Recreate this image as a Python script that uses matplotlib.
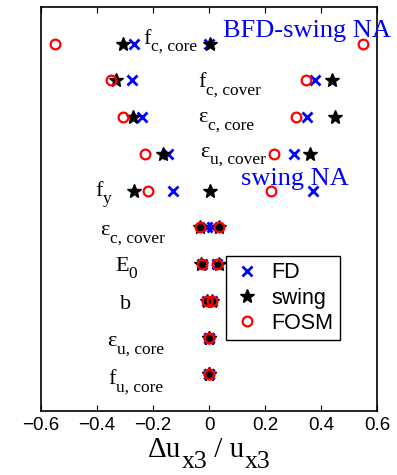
import matplotlib
matplotlib.use('Agg')
import matplotlib.pyplot as plt

plt.rcParams['font.family'] = ['Liberation Sans', 'DejaVu Sans']

# parameters, top to bottom: (main symbol, subscript)
params = [('f', 'c, core'), ('f', 'c, cover'), ('ε', 'c, core'), ('ε', 'u, cover'),
          ('f', 'y'), ('ε', 'c, cover'), ('E', '0'), ('b', ''),
          ('ε', 'u, core'), ('f', 'u, core')]
label_x = [-0.235, -0.038, -0.038, -0.031, -0.406, -0.388, -0.335, -0.317, -0.363, -0.360]
label_dy = [0.0, 0.19, 0.14, 0.08, 0.14, 0.22, 0.19, 0.22, 0.24, 0.27]

fd_lo = [-0.267, -0.275, -0.239, -0.146, -0.129, -0.007, -0.025, -0.007, 0.001, 0.001]
fd_hi = [0.0, 0.377, 0.350, 0.302, 0.370, 0.011, 0.029, 0.011, 0.001, 0.001]
swing_lo = [-0.307, -0.331, -0.271, -0.164, -0.269, -0.031, -0.028, -0.007, 0.001, 0.001]
swing_hi = [0.002, 0.441, 0.449, 0.362, 0.002, 0.034, 0.037, 0.011, 0.001, 0.001]
fosm_lo = [-0.549, -0.349, -0.307, -0.227, -0.219, -0.031, -0.025, -0.007, 0.001, 0.001]
fosm_hi = [0.550, 0.347, 0.311, 0.231, 0.222, 0.034, 0.029, 0.011, 0.001, 0.001]

n = len(params)
rows = list(range(n, 0, -1))

fig = plt.figure(figsize=(3.97, 4.75), dpi=100)
ax = fig.add_axes([0.1033, 0.1347, 0.8463, 0.8506])


def rich_text(x, y, parts, transform, **kw):
    # parts: (text, fontsize, drop below main baseline in points)
    first = ax.text(x, y, parts[0][0], fontsize=parts[0][1], transform=transform,
                    va='baseline', ha='left', family='Liberation Serif', **kw)
    d0 = 0.22 * parts[0][1]
    prev = first
    for s, fs, drop in parts[1:]:
        if not s:
            continue
        prev = ax.annotate(s, xy=(1, 0), xycoords=(prev, first), xytext=(0, d0 - drop),
                           textcoords='offset points', fontsize=fs, va='baseline',
                           ha='left', family='Liberation Serif', annotation_clip=False, **kw)
    return first


ax.plot(fd_lo + fd_hi, rows + rows, 'x', color='blue', ms=6.5, mew=2, label='FD')
ax.plot(swing_lo + swing_hi, rows + rows, '*', color='black', ms=10, label='swing')
ax.plot(fosm_lo + fosm_hi, rows + rows, 'o', mfc='none', mec='red', ms=7, mew=1.6,
        label='FOSM')

for y, (main, sub), lx, dy in zip(rows, params, label_x, label_dy):
    rich_text(lx, y - dy, [(main, 16), (sub, 12.5, 5)], ax.transData)

ax.text(0.051, 10.18, 'BFD-swing NA', color='blue', fontsize=19,
        family='Liberation Serif', va='baseline', ha='left', clip_on=False)
ax.text(0.114, 6.15, 'swing NA', color='blue', fontsize=19,
        family='Liberation Serif', va='baseline', ha='left')

ax.set_xlim(-0.6, 0.6)
ax.set_ylim(0, 11)
ax.set_xticks([-0.6, -0.4, -0.2, 0, 0.2, 0.4, 0.6])
ax.set_xticklabels(['\u22120.6', '\u22120.4', '\u22120.2', '0', '0.2', '0.4', '0.6'])
ax.set_yticks([])
ax.tick_params(axis='x', direction='in', top=True, length=4, labelsize=13.5, pad=4)
for s in ax.spines.values():
    s.set_linewidth(1.2)

# x label: Δu_x3 / u_x3
rich_text(148 / 397, 1 - 457 / 475,
          [('Δu', 21), ('x3', 18.5, 8), (' / u', 21, 0), ('x3', 18.5, 8)], fig.transFigure)

leg = ax.legend(loc='upper left', bbox_to_anchor=(0.551, 0.384), fontsize=15.5,
                fancybox=False, edgecolor='black', framealpha=1, borderpad=0.3,
                handletextpad=0.5, labelspacing=0.2, handlelength=1.3,
                borderaxespad=0)
leg.get_frame().set_linewidth(1.0)

fig.savefig('out.png', dpi=100)
